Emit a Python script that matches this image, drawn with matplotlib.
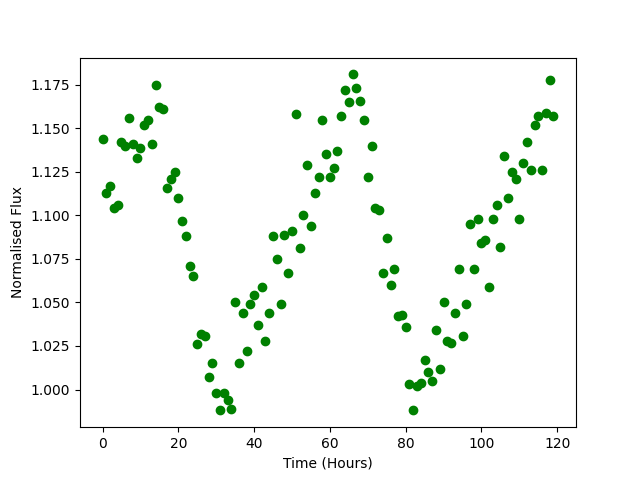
import matplotlib
matplotlib.use('Agg')
import matplotlib.pyplot as plt

# one reading per hour
hours = list(range(120))
flux = [1.144, 1.113, 1.117, 1.104, 1.106, 1.142, 1.140, 1.156, 1.141, 1.133,
        1.139, 1.152, 1.155, 1.141, 1.175, 1.162, 1.161, 1.116, 1.121, 1.125,
        1.110, 1.097, 1.088, 1.071, 1.065, 1.026, 1.032, 1.031, 1.007, 1.015,
        0.998, 0.988, 0.998, 0.994, 0.989, 1.050, 1.015, 1.044, 1.022, 1.049,
        1.054, 1.037, 1.059, 1.028, 1.044, 1.088, 1.075, 1.049, 1.089, 1.067,
        1.091, 1.158, 1.081, 1.100, 1.129, 1.094, 1.113, 1.122, 1.155, 1.135,
        1.122, 1.127, 1.137, 1.157, 1.172, 1.165, 1.181, 1.173, 1.166, 1.155,
        1.122, 1.140, 1.104, 1.103, 1.067, 1.087, 1.060, 1.069, 1.042, 1.043,
        1.036, 1.003, 0.988, 1.002, 1.004, 1.017, 1.010, 1.005, 1.034, 1.012,
        1.050, 1.028, 1.027, 1.044, 1.069, 1.031, 1.049, 1.095, 1.069, 1.098,
        1.084, 1.086, 1.059, 1.098, 1.106, 1.082, 1.134, 1.110, 1.125, 1.121,
        1.098, 1.130, 1.142, 1.126, 1.152, 1.157, 1.126, 1.159, 1.178, 1.157]

fig, ax = plt.subplots(figsize=(6.4, 4.8), dpi=100)
ax.scatter(hours, flux, color='green')
ax.set_xlabel('Time (Hours)')
ax.set_ylabel('Normalised Flux')
plt.savefig('out.png')
